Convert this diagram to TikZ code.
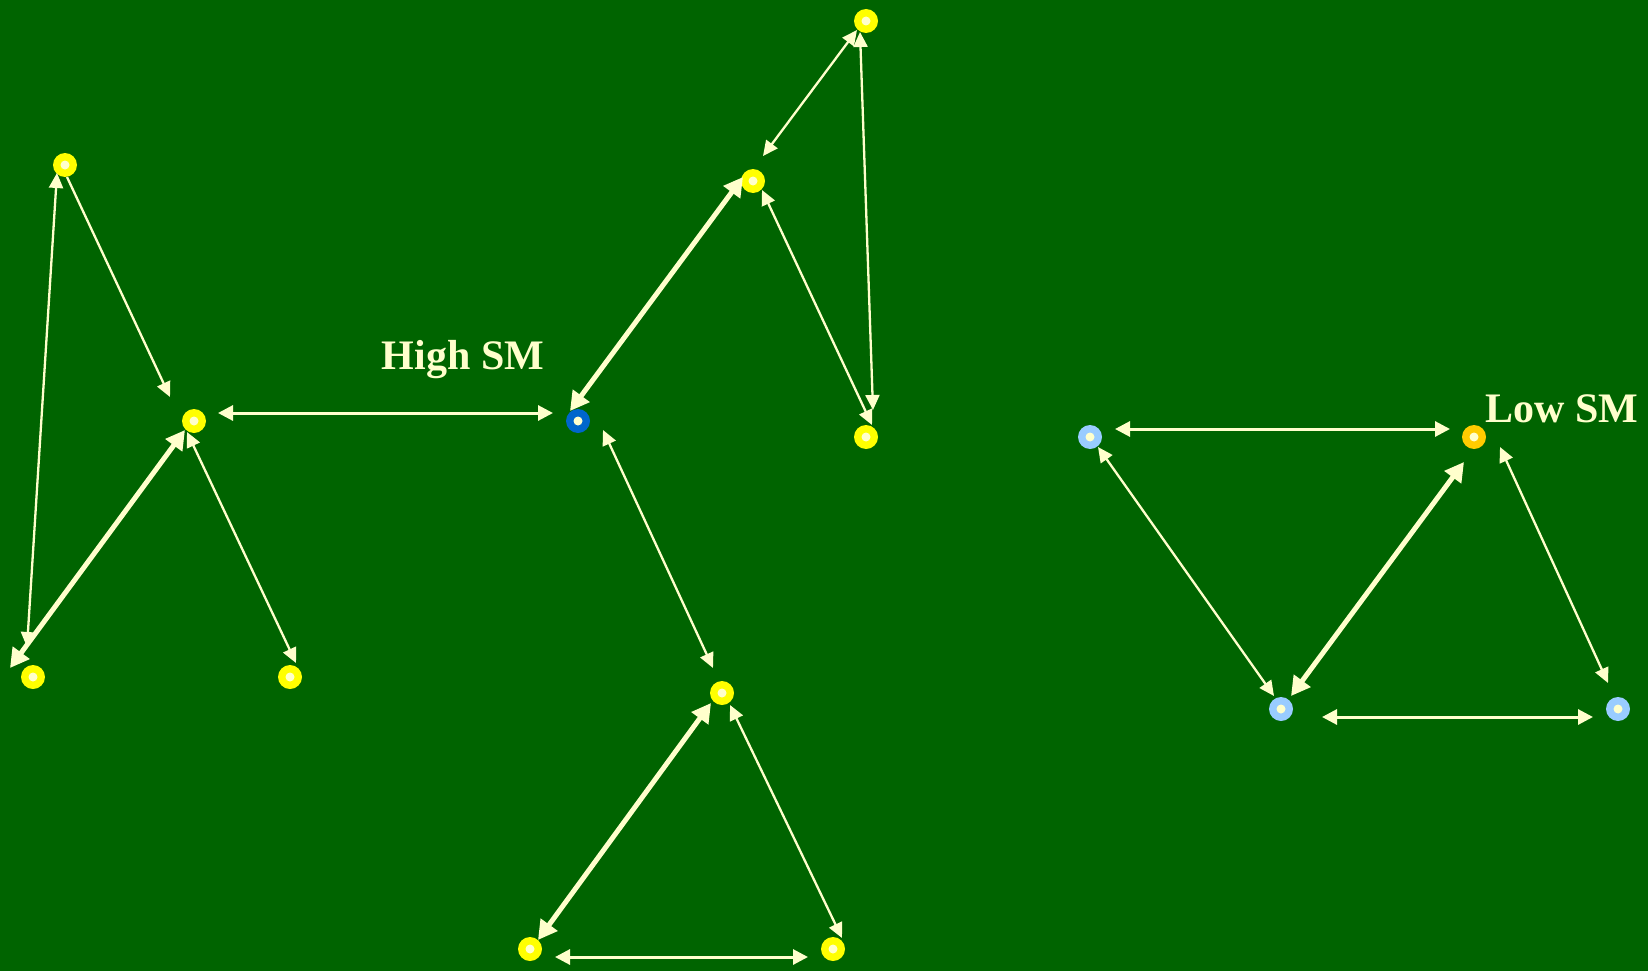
\documentclass[tikz,border=0pt]{standalone}
\usepackage{fontspec}
\setmainfont{Liberation Serif}
\usetikzlibrary{arrows.meta}
\definecolor{bg}{HTML}{006400}
\definecolor{ln}{HTML}{FFFFCC}
\definecolor{ylw}{HTML}{FFFF00}
\definecolor{blu}{HTML}{0066CC}
\definecolor{lblu}{HTML}{99CCFF}
\definecolor{orng}{HTML}{FFCC00}
\tikzset{
  dotnode/.style={circle, fill=#1, minimum size=24pt, inner sep=0pt,
    path picture={\fill[ln] (path picture bounding box.center) circle (4.5pt);}},
  thinln/.style={draw=ln, line width=2.3pt, {Triangle[length=15pt,width=14pt]}-{Triangle[length=15pt,width=14pt]}},
  thinone/.style={draw=ln, line width=2.3pt, -{Triangle[length=15pt,width=14pt]}},
  thickln/.style={draw=ln, line width=5pt, {Triangle[length=19pt,width=20pt]}-{Triangle[length=19pt,width=20pt]}},
  hln/.style={draw=ln, line width=3pt, {Triangle[length=15pt,width=15pt]}-{Triangle[length=15pt,width=15pt]}},
  lbl/.style={text=ln, font=\fontsize{42}{42}\selectfont\bfseries, anchor=base, inner sep=0pt}
}
\begin{document}
\begin{tikzpicture}[x=1pt,y=-1pt]
\fill[bg] (0,0) rectangle (1648,971);
\useasboundingbox (0,0) rectangle (1648,971);
% nodes
\node[dotnode=ylw] (A) at (65,165) {};
\node[dotnode=ylw] (B) at (194,421) {};
\node[dotnode=ylw] (C) at (33,677) {};
\node[dotnode=ylw] (D) at (290,677) {};
\node[dotnode=blu] (E) at (578,421) {};
\node[dotnode=ylw] (F) at (753,181) {};
\node[dotnode=ylw] (G) at (866,21) {};
\node[dotnode=ylw] (H) at (866,437) {};
\node[dotnode=ylw] (I) at (722,693) {};
\node[dotnode=ylw] (J) at (530,949) {};
\node[dotnode=ylw] (K) at (833,949) {};
\node[dotnode=lblu] (L) at (1090,437) {};
\node[dotnode=orng] (M) at (1474,437) {};
\node[dotnode=lblu] (N) at (1281,709) {};
\node[dotnode=lblu] (O) at (1618,709) {};
% labels
\node[lbl] (hsm) at (463,369) {High SM};
\node[lbl] (lsm) at (1562,422) {Low SM};
% left cluster
\draw[thinone] ([shift={(2,12)}]A.center) -- ([shift={(-24,-24)}]B.center);
\draw[thinln] ([shift={(-8,8)}]A.center) -- ([shift={(-6,-30)}]C.center);
\draw[thickln] ([shift={(-9,9)}]B.center) -- ([shift={(-23,-9)}]C.center);
\draw[thinln] ([shift={(-7,11)}]B.center) -- ([shift={(6,-14)}]D.center);
\draw[hln] ([shift={(24,-8)}]B.center) -- ([shift={(-25,-8)}]E.center);
% middle cluster
\draw[thickln] ([shift={(-8,-10)}]E.center) -- ([shift={(-10,-4)}]F.center);
\draw[thinln] ([shift={(10,-25)}]F.center) -- ([shift={(-9,9)}]G.center);
\draw[thinln] ([shift={(-6,11)}]G.center) -- ([shift={(7,-27)}]H.center);
\draw[thinln] ([shift={(9,9)}]F.center) -- ([shift={(6,-12)}]H.center);
\draw[thinln] ([shift={(25,9)}]E.center) -- ([shift={(-9,-25)}]I.center);
\draw[thickln] ([shift={(-11,10)}]I.center) -- ([shift={(8,-9)}]J.center);
\draw[thinln] ([shift={(8,12)}]I.center) -- ([shift={(9,-11)}]K.center);
\draw[hln] ([shift={(25,8)}]J.center) -- ([shift={(-25,8)}]K.center);
% right cluster
\draw[hln] ([shift={(25,-8)}]L.center) -- ([shift={(-24,-8)}]M.center);
\draw[thinln] ([shift={(8,10)}]L.center) -- ([shift={(-7,-13)}]N.center);
\draw[thickln] ([shift={(-10,25)}]M.center) -- ([shift={(10,-13)}]N.center);
\draw[thinln] ([shift={(26,10)}]M.center) -- ([shift={(-10,-26)}]O.center);
\draw[hln] ([shift={(41,8)}]N.center) -- ([shift={(-25,8)}]O.center);
\end{tikzpicture}
\end{document}
